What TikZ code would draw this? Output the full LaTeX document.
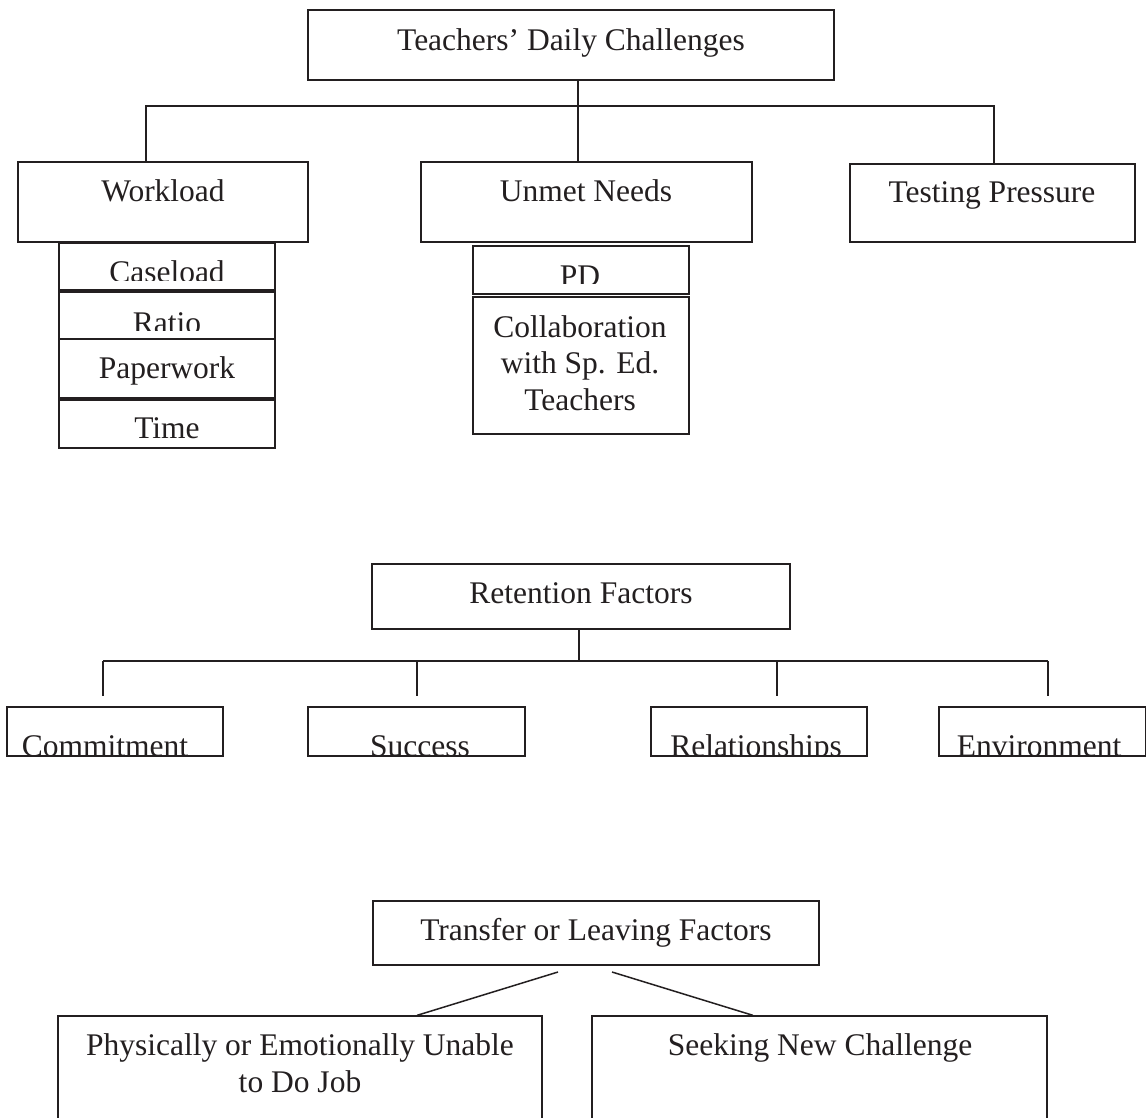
\documentclass[tikz,border=0pt]{standalone}
\usepackage{fontspec}
\setmainfont{Liberation Serif}
\usetikzlibrary{fit}
\definecolor{ink}{RGB}{35,31,32}
\newcommand\chartfont{\fontsize{31.5}{37}\selectfont}
\tikzset{
  box/.style={draw=ink, line width=1.3pt, inner sep=0pt, rectangle},
  txt/.style={font=\chartfont, text=ink, inner sep=0pt, anchor=base},
  link/.style={draw=ink, line width=1.5pt},
}
\begin{document}
\begin{tikzpicture}[x=1pt,y=-1pt]
\clip (0,0) rectangle (1146,1118);
\fill[white] (0,0) rectangle (1146,1118);

% ---------------- Teachers' daily challenges ----------------
\node[box, fit={(308,10) (834,80)}] (top) {};
\node[txt] (toptxt) at (571,51) {Teachers’ Daily Challenges};

\node[box, fit={(18,162) (308,242)}] (work) {};
\node[txt] (worktxt) at (163,202) {Workload};
\node[box, fit={(421,162) (752,242)}] (unmet) {};
\node[txt] (unmettxt) at (586,202) {Unmet Needs};
\node[box, fit={(850,164) (1135,242)}] (test) {};
\node[txt] (testtxt) at (992,203) {Testing Pressure};

\coordinate (tj) at (578,106);
\coordinate (tl) at (146,106);
\coordinate (tr) at (994,106);
\draw[link] (tj |- top.south) -- (tj |- unmet.north);
\draw[link] (tl |- work.north) -- (tl) -- (tr) -- (tr |- test.north);

% workload items
\node[box, fit={(59,243) (275,290)}] (case) {};
\begin{scope}
  \clip (59,243) rectangle (275,280);
  \node[txt] (casetxt) at (167,283) {Caseload};
\end{scope}
\node[box, fit={(59,292) (275,339)}] (ratio) {};
\begin{scope}
  \clip (59,292) rectangle (275,330);
  \node[txt] (ratiotxt) at (167,333) {Ratio};
\end{scope}
\node[box, fit={(59,339) (275,398)}] (paper) {};
\node[txt] (papertxt) at (167,378) {Paperwork};
\node[box, fit={(59,400) (275,448)}] (time) {};
\node[txt] (timetxt) at (167,438) {Time};

% unmet needs items
\node[box, fit={(473,246) (689,294)}] (pd) {};
\begin{scope}
  \clip (473,246) rectangle (689,283);
  \node[txt] (pdtxt) at (580,287) {PD};
\end{scope}
\node[box, fit={(473,297) (689,434)}] (collab) {};
\node[txt] (collab1) at (580,337) {Collaboration};
\node[txt] (collab2) at (580,373) {with Sp. Ed.};
\node[txt] (collab3) at (580,410) {Teachers};

% ---------------- Retention factors ----------------
\node[box, fit={(372,564) (790,629)}] (ret) {};
\node[txt] (rettxt) at (581,603) {Retention Factors};

\coordinate (rj) at (579,661);
\coordinate (r1) at (103,661);
\coordinate (r2) at (417,661);
\coordinate (r3) at (777,661);
\coordinate (r4) at (1048,661);
\coordinate (r1e) at (103,696);
\coordinate (r2e) at (417,696);
\coordinate (r3e) at (777,696);
\coordinate (r4e) at (1048,696);
\draw[link] (rj |- ret.south) -- (rj);
\draw[link] (r1) -- (r4);
\draw[link] (r1) -- (r1e);
\draw[link] (r2) -- (r2e);
\draw[link] (r3) -- (r3e);
\draw[link] (r4) -- (r4e);

\node[box, fit={(7,707) (223,756)}] (commit) {};
\node[box, fit={(308,707) (525,756)}] (success) {};
\node[box, fit={(651,707) (867,756)}] (relat) {};
\node[box, fit={(939,707) (1146,756)}] (envir) {};
\begin{scope}
  \clip (0,707) rectangle (1146,754);
  \node[txt] (committxt) at (105,756) {Commitment};
  \node[txt] (successtxt) at (420,756) {Success};
  \node[txt] (relattxt) at (756,756) {Relationships};
  \node[txt] (envirtxt) at (1039,756) {Environment};
\end{scope}

% ---------------- Transfer or leaving factors ----------------
\node[box, fit={(373,901) (819,965)}] (trans) {};
\node[txt] (transtxt) at (596,940) {Transfer or Leaving Factors};

\node[box, fit={(58,1016) (542,1140)}] (phys) {};
\node[txt] (phys1) at (300,1055) {Physically or Emotionally Unable};
\node[txt] (phys2) at (300,1092) {to Do Job};
\node[box, fit={(592,1016) (1047,1140)}] (seek) {};
\node[txt] (seektxt) at (820,1055) {Seeking New Challenge};

\coordinate (tl1) at (558,972);
\coordinate (tl2) at (612,972);
\coordinate (pb) at (417,0);
\coordinate (sb) at (753,0);
\draw[link] (tl1) -- (pb |- phys.north);
\draw[link] (tl2) -- (sb |- seek.north);
\end{tikzpicture}
\end{document}
